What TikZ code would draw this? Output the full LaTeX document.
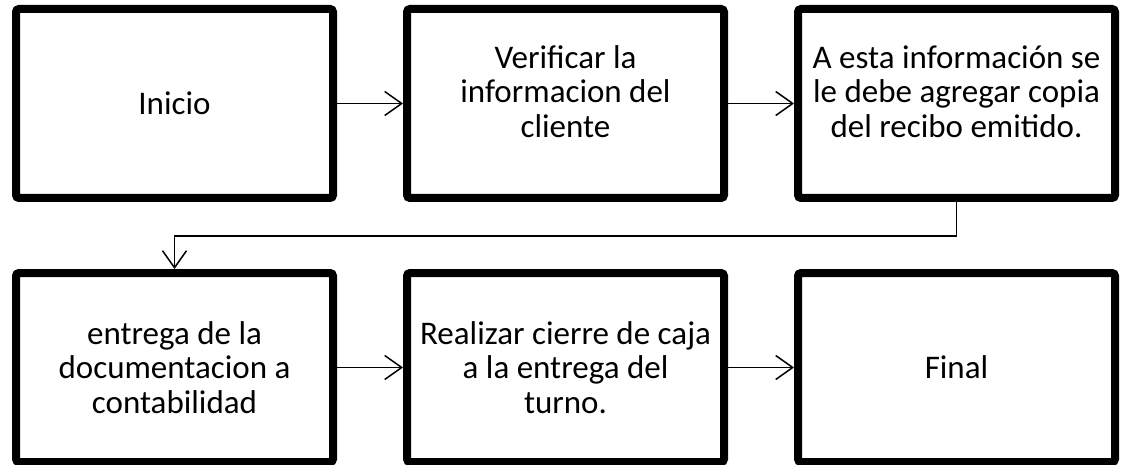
\documentclass[tikz,border=0pt]{standalone}
\usepackage{fontspec}
\setmainfont{Carlito}
\usepackage{tikz}
\usetikzlibrary{arrows.meta,positioning,shadows}
\tikzstyle{block} = [rectangle, draw, line width=8pt, rounded corners=3pt, fill=white,
  minimum width=317pt, minimum height=189pt, align=center,
  font=\fontsize{33}{34.5}\selectfont,
  drop shadow={shadow xshift=2pt, shadow yshift=-3pt, opacity=0.35}]
\tikzstyle{raised} = [text depth=24pt]

\begin{document}
\begin{tikzpicture}[>={Straight Barb[length=17pt,width=24pt]}, every path/.style={line width=1.5pt}]
   \useasboundingbox (0,0) rectangle (1124pt,-465pt);
   % Place nodes
   \node [block] (ini) at (174.5pt,-103.5pt) {Inicio};
   \node [block, raised, right = 66pt of ini] (ver) {Verificar la \\ informacion del \\ cliente};
   \node [block, raised, right = 66pt of ver] (rec) {A esta información se \\ le debe agregar copia \\ del recibo emitido.};
   \node [block, below = 67pt of ini] (doc) {entrega de la \\ documentacion a \\ contabilidad};
   \node [block, right = 66pt of doc] (cie) {Realizar cierre de caja \\ a la entrega del \\ turno.};
   \node [block, right = 66pt of cie] (fin) {Final};
   % Connectors
   \draw[->] (ini) -- (ver);
   \draw[->] (ver) -- (rec);
   \draw[->] (rec.south) -- ++(0,-34pt) -| (doc.north);
   \draw[->] (doc) -- (cie);
   \draw[->] (cie) -- (fin);
\end{tikzpicture}
\end{document}
